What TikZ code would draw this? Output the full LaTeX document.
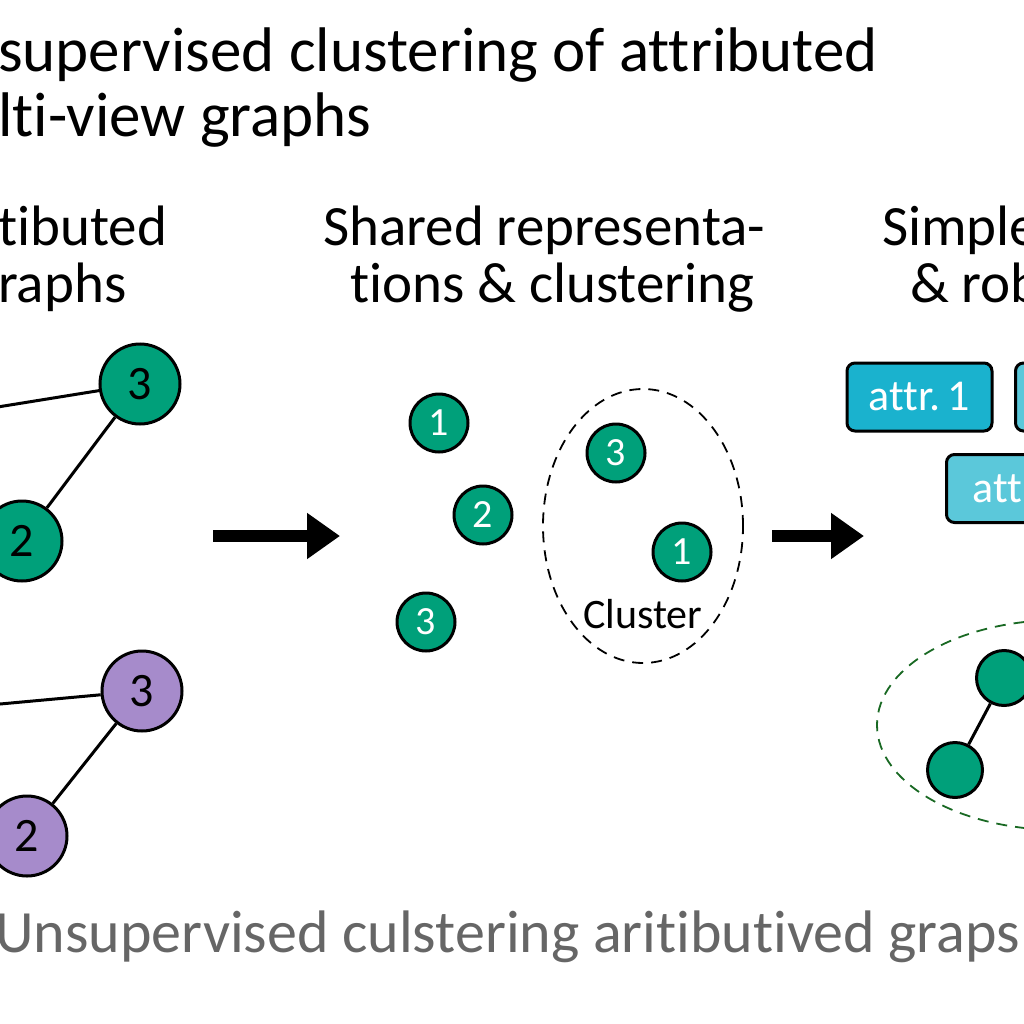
\documentclass[tikz,border=0pt]{standalone}
\usepackage{fontspec}
\setmainfont{Carlito}[Ligatures=NoCommon]
\usetikzlibrary{arrows.meta, positioning, shapes.geometric}
\definecolor{viewgreen}{RGB}{0,160,122}
\definecolor{viewpurple}{RGB}{166,139,203}
\definecolor{attrdark}{RGB}{26,178,206}
\definecolor{attrlight}{RGB}{91,200,218}
\definecolor{clustergreen}{RGB}{25,105,35}
\definecolor{footgray}{RGB}{102,102,102}

\begin{document}
\begin{tikzpicture}[
  x=1pt, y=-1pt,
  titletext/.style={anchor=base west, inner sep=0pt, font=\fontsize{63}{63}\selectfont},
  headtext/.style={anchor=base west, inner sep=0pt, font=\fontsize{57}{57}\selectfont},
  foottext/.style={anchor=base west, inner sep=0pt, text=footgray, font=\fontsize{60}{60}\selectfont},
  viewnode/.style={circle, draw, line width=3pt, minimum size=80pt, inner sep=0pt, font=\fontsize{48}{48}\selectfont},
  repnode/.style={circle, draw, line width=3pt, fill=viewgreen, text=white, minimum size=58pt, inner sep=0pt, font=\fontsize{40}{40}\selectfont},
  mergenode/.style={circle, draw, line width=3pt, fill=viewgreen, minimum size=55pt, inner sep=0pt},
  attrbox/.style={draw, line width=3pt, rounded corners=8pt, text=white, minimum height=68pt, minimum width=145pt, inner sep=0pt, font=\fontsize{44}{44}\selectfont},
  clusterline/.style={dashed, dash pattern=on 11pt off 8pt, line width=1.8pt},
  edge/.style={line width=3pt},
  flow/.style={line width=12pt, -{Triangle[length=33pt, width=44pt]}}
]
  \useasboundingbox (0,0) rectangle (1024,1024);
  \clip (0,0) rectangle (1024,1024);

  % title
  \node[titletext] (T1) at (-2,72) {supervised clustering of attributed};
  \node[titletext] (T2) at (-2,137) {lti-view graphs};

  % column headings
  \node[headtext] (H1a) at (-2,245) {tibuted};
  \node[headtext] (H1b) at (-2,302) {raphs};
  \node[headtext] (H2a) at (323,245) {Shared representa-};
  \node[headtext] (H2b) at (350,302) {tions \& clustering};
  \node[headtext] (H3a) at (882,245) {Simple};
  \node[headtext] (H3b) at (910,302) {\& rob};

  % views
  \coordinate (g1) at (-120,426);
  \node[viewnode, fill=viewgreen] (g3) at (140,384) {3};
  \node[viewnode, fill=viewgreen] (g2) at (22,541) {2};
  \draw[edge] (g1) -- (g3);
  \draw[edge] (g3) -- (g2);

  \coordinate (p1) at (-120,715);
  \node[viewnode, fill=viewpurple] (p3) at (142,691) {3};
  \node[viewnode, fill=viewpurple] (p2) at (27,836) {2};
  \draw[edge] (p1) -- (p3);
  \draw[edge] (p3) -- (p2);

  % shared representations
  \node[repnode] (r1) at (439,423) {1};
  \node[repnode] (r2) at (483,515) {2};
  \node[repnode] (r3) at (426,622) {3};
  \node[repnode] (c3) at (616,453) {3};
  \node[repnode] (c1) at (682,552) {1};
  \node[ellipse, draw, clusterline, minimum width=200pt, minimum height=274pt] (cl) at (643,526) {};
  \node[anchor=base west, inner sep=0pt, font=\fontsize{42}{42}\selectfont] (cllabel) at (583,628) {Cluster};

  % arrows
  \coordinate (a1s) at (213,536);
  \coordinate (a1e) at (340,536);
  \draw[flow] (a1s) -- (a1e);
  \coordinate (a2s) at (772,536);
  \coordinate (a2e) at (864,536);
  \draw[flow] (a2s) -- (a2e);

  % attributes
  \node[attrbox, fill=attrdark] (at1) at (919.5,397) {attr.\,1};
  \node[attrbox, fill=attrlight, anchor=west] (at2) at (1014,397) {};
  \node[attrbox, fill=attrlight, anchor=west, text width=145pt, align=left] (at3) at (945,488.5) {\hspace*{26pt}att};

  % merged graph
  \node[ellipse, draw=clustergreen, clusterline, minimum width=366pt, minimum height=210pt] (mg) at (1060,725) {};
  \node[mergenode] (m1) at (1004,678) {};
  \node[mergenode] (m2) at (955,770) {};
  \draw[edge] (m1) -- (m2);

  % footer
  \node[foottext] (foot) at (-5,952) {Unsupervised culstering aritibutived graps};
\end{tikzpicture}
\end{document}
